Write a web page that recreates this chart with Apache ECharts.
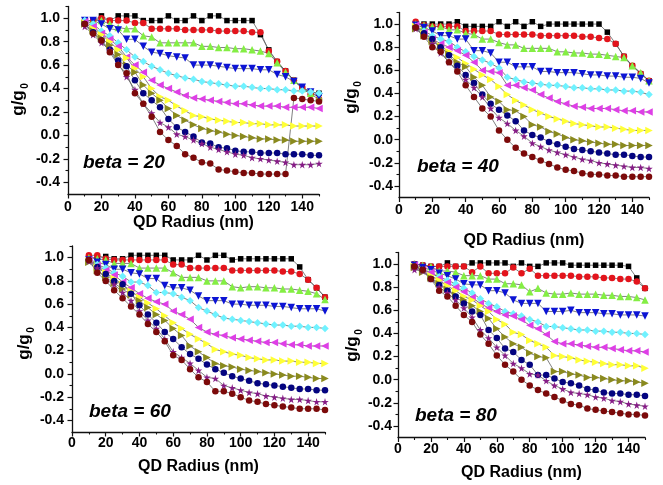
<!DOCTYPE html>
<html>
<head>
<meta charset="utf-8">
<script src="https://cdn.jsdelivr.net/npm/echarts@6/dist/echarts.min.js"></script>
<style>
  html, body { margin: 0; padding: 0; background: #ffffff; }
  #chart { width: 663px; height: 485px; }
</style>
</head>
<body>
<div id="chart"></div>
<script>
// QD radius sample points (nm)
const radius = [10, 15, 20, 25, 30, 35, 40, 45, 50, 55, 60, 65, 70, 75, 80, 85, 90, 95, 100, 105, 110, 115, 120, 125, 130, 135, 140, 145, 150];
const betaValues = [20, 40, 60, 80];

// tick labels
const xLabelTicks = [0, 20, 40, 60, 80, 100, 120, 140];
const xMinorTicks = [10, 30, 50, 70, 90, 110, 130, 150];
const yLabelTicks = [-0.4, -0.2, 0, 0.2, 0.4, 0.6, 0.8, 1.0];
const yMinorTicks = [-0.3, -0.1, 0.1, 0.3, 0.5, 0.7, 0.9, 1.1];

// beta = 20
const b20_k = [0.98, 0.98, 1.02, 0.98, 1.02, 1.02, 1.02, 0.98, 0.98, 0.98, 1.02, 0.98, 0.98, 1.02, 0.98, 1.02, 1.02, 0.98, 0.98, 0.98, 0.98, 0.86, 0.73, 0.63, 0.55, 0.47, 0.41, 0.37, 0.36];
const b20_r = [0.98, 0.98, 1.00, 0.98, 0.98, 0.98, 0.96, 0.96, 0.91, 0.91, 0.91, 0.91, 0.90, 0.90, 0.90, 0.90, 0.89, 0.89, 0.89, 0.89, 0.88, 0.88, 0.72, 0.63, 0.55, 0.47, 0.41, 0.35, 0.31];
const b20_g = [0.98, 0.98, 0.98, 0.95, 0.92, 0.91, 0.91, 0.85, 0.84, 0.79, 0.79, 0.79, 0.79, 0.79, 0.76, 0.76, 0.75, 0.75, 0.74, 0.74, 0.73, 0.72, 0.70, 0.62, 0.54, 0.47, 0.40, 0.36, 0.33];
const b20_b = [0.98, 0.98, 0.95, 0.91, 0.90, 0.82, 0.82, 0.76, 0.71, 0.70, 0.68, 0.67, 0.66, 0.60, 0.60, 0.60, 0.59, 0.58, 0.57, 0.57, 0.57, 0.56, 0.56, 0.52, 0.50, 0.46, 0.41, 0.37, 0.33];
const b20_c = [0.98, 0.95, 0.89, 0.85, 0.79, 0.73, 0.67, 0.63, 0.59, 0.56, 0.53, 0.51, 0.49, 0.48, 0.46, 0.45, 0.44, 0.43, 0.42, 0.42, 0.41, 0.40, 0.40, 0.39, 0.39, 0.38, 0.38, 0.37, 0.36];
const b20_m = [0.97, 0.93, 0.87, 0.82, 0.76, 0.67, 0.60, 0.54, 0.47, 0.43, 0.40, 0.37, 0.34, 0.32, 0.31, 0.30, 0.29, 0.28, 0.27, 0.27, 0.26, 0.25, 0.25, 0.25, 0.24, 0.24, 0.24, 0.24, 0.23];
const b20_y = [0.96, 0.91, 0.86, 0.80, 0.73, 0.66, 0.57, 0.50, 0.40, 0.33, 0.30, 0.25, 0.21, 0.17, 0.16, 0.14, 0.13, 0.12, 0.11, 0.11, 0.10, 0.10, 0.09, 0.09, 0.09, 0.08, 0.08, 0.08, 0.08];
const b20_o = [0.95, 0.89, 0.83, 0.77, 0.69, 0.60, 0.54, 0.43, 0.36, 0.30, 0.23, 0.17, 0.13, 0.09, 0.06, 0.04, 0.03, 0.01, 0.00, -0.01, -0.02, -0.03, -0.03, -0.04, -0.04, -0.05, -0.05, -0.05, -0.05];
const b20_n = [0.95, 0.88, 0.81, 0.73, 0.64, 0.59, 0.47, 0.36, 0.30, 0.24, 0.14, 0.07, 0.03, -0.01, -0.06, -0.07, -0.10, -0.11, -0.13, -0.14, -0.14, -0.15, -0.15, -0.15, -0.16, -0.16, -0.16, -0.17, -0.17];
const b20_p = [0.93, 0.86, 0.79, 0.73, 0.61, 0.50, 0.39, 0.27, 0.19, 0.11, 0.07, 0.01, -0.01, -0.04, -0.07, -0.10, -0.12, -0.14, -0.16, -0.17, -0.19, -0.20, -0.21, -0.22, -0.23, -0.25, -0.25, -0.25, -0.24];
const b20_w = [0.95, 0.87, 0.81, 0.71, 0.60, 0.53, 0.36, 0.27, 0.16, 0.03, -0.04, -0.09, -0.16, -0.19, -0.23, -0.24, -0.29, -0.30, -0.31, -0.32, -0.32, -0.33, -0.33, -0.33, -0.33, 0.32, 0.31, 0.30, 0.29];

// beta = 40
const b40_k = [1.00, 1.00, 1.00, 1.00, 1.00, 1.02, 0.98, 0.98, 0.98, 0.98, 1.02, 0.98, 1.02, 0.98, 1.02, 0.98, 1.00, 1.00, 1.00, 1.00, 1.00, 1.00, 1.00, 0.93, 0.83, 0.72, 0.64, 0.57, 0.51];
const b40_r = [1.02, 0.99, 0.98, 0.98, 0.98, 0.98, 0.94, 0.94, 0.94, 0.94, 0.91, 0.91, 0.91, 0.91, 0.91, 0.90, 0.90, 0.90, 0.90, 0.90, 0.89, 0.89, 0.88, 0.87, 0.83, 0.72, 0.64, 0.57, 0.51];
const b40_g = [1.00, 0.99, 0.98, 0.98, 0.95, 0.95, 0.92, 0.91, 0.87, 0.87, 0.84, 0.82, 0.82, 0.79, 0.79, 0.79, 0.79, 0.76, 0.76, 0.75, 0.75, 0.74, 0.74, 0.73, 0.72, 0.71, 0.64, 0.58, 0.51];
const b40_b = [0.99, 0.97, 0.94, 0.90, 0.90, 0.87, 0.87, 0.77, 0.77, 0.75, 0.67, 0.67, 0.63, 0.63, 0.63, 0.59, 0.59, 0.58, 0.58, 0.58, 0.57, 0.56, 0.56, 0.55, 0.55, 0.54, 0.54, 0.53, 0.49];
const b40_c = [0.98, 0.94, 0.90, 0.87, 0.85, 0.80, 0.76, 0.72, 0.69, 0.66, 0.62, 0.54, 0.52, 0.50, 0.49, 0.48, 0.47, 0.47, 0.46, 0.45, 0.45, 0.44, 0.44, 0.43, 0.43, 0.42, 0.42, 0.41, 0.39];
const b40_m = [0.99, 0.93, 0.87, 0.83, 0.80, 0.77, 0.73, 0.67, 0.60, 0.59, 0.58, 0.47, 0.47, 0.45, 0.43, 0.39, 0.36, 0.33, 0.31, 0.29, 0.28, 0.27, 0.27, 0.27, 0.26, 0.25, 0.25, 0.24, 0.24];
const b40_y = [0.98, 0.92, 0.86, 0.81, 0.76, 0.71, 0.66, 0.61, 0.56, 0.52, 0.46, 0.39, 0.34, 0.30, 0.26, 0.23, 0.20, 0.18, 0.16, 0.14, 0.13, 0.12, 0.11, 0.11, 0.10, 0.09, 0.08, 0.08, 0.08];
const b40_o = [0.96, 0.90, 0.85, 0.80, 0.74, 0.67, 0.63, 0.54, 0.47, 0.37, 0.33, 0.26, 0.25, 0.20, 0.13, 0.11, 0.07, 0.05, 0.02, 0.00, -0.01, -0.02, -0.03, -0.04, -0.04, -0.05, -0.05, -0.05, -0.05];
const b40_n = [0.97, 0.92, 0.87, 0.80, 0.73, 0.64, 0.56, 0.49, 0.39, 0.31, 0.26, 0.21, 0.16, 0.08, 0.04, 0.02, -0.02, -0.04, -0.06, -0.08, -0.09, -0.10, -0.11, -0.12, -0.13, -0.13, -0.14, -0.15, -0.15];
const b40_p = [0.96, 0.90, 0.83, 0.75, 0.67, 0.60, 0.52, 0.45, 0.37, 0.27, 0.19, 0.14, 0.08, 0.03, -0.03, -0.06, -0.09, -0.11, -0.13, -0.15, -0.17, -0.18, -0.20, -0.21, -0.22, -0.23, -0.24, -0.24, -0.25];
const b40_w = [0.97, 0.89, 0.80, 0.76, 0.67, 0.59, 0.47, 0.37, 0.27, 0.20, 0.08, 0.00, -0.07, -0.12, -0.15, -0.18, -0.21, -0.24, -0.26, -0.27, -0.29, -0.30, -0.30, -0.31, -0.31, -0.32, -0.32, -0.32, -0.32];

// beta = 60
const b60_k = [1.00, 1.00, 1.01, 0.99, 0.99, 1.02, 1.02, 1.02, 1.02, 1.02, 0.98, 0.98, 0.98, 1.02, 0.98, 1.02, 1.02, 0.98, 0.99, 0.99, 0.99, 0.99, 0.99, 0.99, 0.99, 0.92, 0.81, 0.74, 0.66];
const b60_r = [1.02, 1.02, 0.99, 0.98, 0.98, 0.98, 0.98, 0.98, 0.98, 0.98, 0.94, 0.94, 0.91, 0.91, 0.91, 0.91, 0.91, 0.89, 0.89, 0.89, 0.89, 0.89, 0.89, 0.88, 0.88, 0.86, 0.81, 0.74, 0.66];
const b60_g = [1.00, 0.99, 0.98, 0.95, 0.95, 0.95, 0.91, 0.91, 0.91, 0.91, 0.87, 0.83, 0.83, 0.83, 0.80, 0.80, 0.80, 0.75, 0.74, 0.75, 0.75, 0.74, 0.74, 0.73, 0.73, 0.72, 0.71, 0.69, 0.64];
const b60_b = [0.98, 0.96, 0.94, 0.90, 0.90, 0.87, 0.86, 0.82, 0.82, 0.76, 0.74, 0.74, 0.72, 0.67, 0.63, 0.63, 0.63, 0.60, 0.60, 0.59, 0.59, 0.59, 0.58, 0.58, 0.57, 0.56, 0.56, 0.56, 0.54];
const b60_c = [0.98, 0.94, 0.91, 0.87, 0.84, 0.79, 0.79, 0.76, 0.70, 0.70, 0.69, 0.66, 0.63, 0.57, 0.54, 0.51, 0.48, 0.47, 0.46, 0.45, 0.44, 0.43, 0.42, 0.42, 0.41, 0.41, 0.40, 0.40, 0.39];
const b60_m = [0.98, 0.93, 0.89, 0.85, 0.79, 0.74, 0.69, 0.65, 0.62, 0.60, 0.54, 0.51, 0.47, 0.40, 0.36, 0.34, 0.33, 0.31, 0.30, 0.29, 0.28, 0.27, 0.27, 0.26, 0.25, 0.25, 0.24, 0.24, 0.24];
const b60_y = [0.97, 0.92, 0.87, 0.82, 0.77, 0.71, 0.66, 0.61, 0.56, 0.50, 0.44, 0.39, 0.34, 0.30, 0.26, 0.21, 0.19, 0.17, 0.16, 0.14, 0.13, 0.12, 0.12, 0.11, 0.11, 0.10, 0.10, 0.09, 0.09];
const b60_o = [0.96, 0.89, 0.83, 0.78, 0.73, 0.68, 0.63, 0.57, 0.51, 0.46, 0.39, 0.33, 0.24, 0.19, 0.14, 0.09, 0.07, 0.06, 0.04, 0.03, 0.02, 0.01, 0.00, -0.01, -0.02, -0.02, -0.03, -0.04, -0.04];
const b60_n = [0.98, 0.92, 0.86, 0.80, 0.77, 0.69, 0.59, 0.51, 0.44, 0.36, 0.30, 0.23, 0.17, 0.13, 0.08, 0.04, 0.01, -0.02, -0.04, -0.06, -0.08, -0.09, -0.10, -0.11, -0.12, -0.13, -0.13, -0.14, -0.14];
const b60_p = [0.97, 0.91, 0.81, 0.77, 0.70, 0.63, 0.54, 0.46, 0.39, 0.30, 0.19, 0.14, 0.09, 0.03, -0.03, -0.04, -0.10, -0.12, -0.14, -0.16, -0.17, -0.19, -0.20, -0.21, -0.22, -0.22, -0.23, -0.24, -0.24];
const b60_w = [0.98, 0.87, 0.80, 0.72, 0.65, 0.58, 0.51, 0.43, 0.36, 0.28, 0.16, 0.12, 0.04, -0.03, -0.07, -0.15, -0.15, -0.17, -0.20, -0.23, -0.24, -0.26, -0.27, -0.28, -0.29, -0.30, -0.30, -0.30, -0.31];

// beta = 80
const b80_k = [1.00, 0.99, 0.98, 0.98, 1.01, 0.98, 0.98, 1.01, 1.01, 1.01, 1.01, 1.01, 0.98, 1.01, 0.98, 0.98, 1.01, 1.01, 1.01, 0.99, 0.99, 0.99, 0.99, 0.99, 0.99, 0.99, 0.98, 0.88, 0.79];
const b80_r = [1.00, 0.99, 0.98, 0.98, 0.98, 0.98, 0.98, 0.93, 0.98, 0.92, 0.92, 0.92, 0.97, 0.92, 0.96, 0.90, 0.90, 0.90, 0.90, 0.90, 0.89, 0.89, 0.89, 0.88, 0.88, 0.87, 0.87, 0.85, 0.79];
const b80_g = [1.00, 0.99, 0.98, 0.94, 0.94, 0.93, 0.90, 0.90, 0.90, 0.87, 0.87, 0.83, 0.83, 0.82, 0.76, 0.79, 0.75, 0.74, 0.74, 0.75, 0.74, 0.74, 0.74, 0.73, 0.73, 0.72, 0.72, 0.71, 0.69];
const b80_b = [0.99, 0.97, 0.95, 0.92, 0.90, 0.87, 0.83, 0.82, 0.82, 0.77, 0.77, 0.75, 0.69, 0.66, 0.66, 0.66, 0.59, 0.59, 0.59, 0.60, 0.58, 0.58, 0.58, 0.57, 0.57, 0.56, 0.56, 0.56, 0.55];
const b80_c = [0.98, 0.95, 0.92, 0.89, 0.86, 0.83, 0.79, 0.75, 0.70, 0.66, 0.63, 0.59, 0.57, 0.55, 0.52, 0.50, 0.46, 0.46, 0.45, 0.44, 0.43, 0.43, 0.42, 0.42, 0.41, 0.41, 0.40, 0.40, 0.39];
const b80_m = [0.99, 0.95, 0.93, 0.88, 0.84, 0.80, 0.76, 0.71, 0.66, 0.62, 0.59, 0.56, 0.55, 0.52, 0.47, 0.44, 0.39, 0.33, 0.31, 0.31, 0.30, 0.29, 0.28, 0.28, 0.27, 0.26, 0.25, 0.25, 0.24];
const b80_y = [0.98, 0.94, 0.90, 0.86, 0.81, 0.77, 0.72, 0.69, 0.64, 0.59, 0.52, 0.48, 0.41, 0.39, 0.34, 0.31, 0.28, 0.21, 0.20, 0.19, 0.17, 0.16, 0.15, 0.14, 0.13, 0.13, 0.12, 0.12, 0.10];
const b80_o = [0.97, 0.93, 0.88, 0.83, 0.78, 0.73, 0.69, 0.64, 0.59, 0.53, 0.44, 0.37, 0.31, 0.28, 0.23, 0.20, 0.19, 0.07, 0.07, 0.05, 0.04, 0.02, 0.02, 0.01, 0.00, -0.01, -0.01, -0.02, -0.03];
const b80_n = [0.98, 0.95, 0.87, 0.82, 0.77, 0.72, 0.66, 0.59, 0.56, 0.43, 0.36, 0.27, 0.24, 0.17, 0.13, 0.04, 0.04, 0.01, -0.02, -0.03, -0.05, -0.08, -0.09, -0.11, -0.12, -0.12, -0.13, -0.13, -0.14];
const b80_p = [0.95, 0.94, 0.87, 0.80, 0.75, 0.69, 0.62, 0.54, 0.43, 0.36, 0.28, 0.21, 0.14, 0.10, 0.05, 0.04, -0.01, -0.05, -0.08, -0.11, -0.12, -0.13, -0.15, -0.16, -0.18, -0.19, -0.21, -0.22, -0.23];
const b80_w = [0.98, 0.95, 0.87, 0.77, 0.72, 0.64, 0.56, 0.50, 0.39, 0.31, 0.21, 0.13, 0.07, 0.00, -0.05, -0.09, -0.12, -0.15, -0.18, -0.21, -0.22, -0.25, -0.26, -0.27, -0.28, -0.29, -0.30, -0.30, -0.31];

const panelSeries = [
  [b20_k, b20_r, b20_g, b20_b, b20_c, b20_m, b20_y, b20_o, b20_n, b20_p, b20_w],
  [b40_k, b40_r, b40_g, b40_b, b40_c, b40_m, b40_y, b40_o, b40_n, b40_p, b40_w],
  [b60_k, b60_r, b60_g, b60_b, b60_c, b60_m, b60_y, b60_o, b60_n, b60_p, b60_w],
  [b80_k, b80_r, b80_g, b80_b, b80_c, b80_m, b80_y, b80_o, b80_n, b80_p, b80_w]
];

// marker styles, one per curve
const STAR = 'path://M50,0 L61,35 L98,35 L68,57 L79,91 L50,70 L21,91 L32,57 L2,35 L39,35 Z';
const markerStyles = [
  { color: '#000000', symbol: 'rect', size: 5.5, rotate: 0 },
  { color: '#e3141c', symbol: 'circle', size: 6.5, rotate: 0 },
  { color: '#84ee44', symbol: 'triangle', size: 7.5, rotate: 0 },
  { color: '#0c14d4', symbol: 'triangle', size: 7.5, rotate: 180 },
  { color: '#70f2ff', symbol: 'diamond', size: 7.5, rotate: 0 },
  { color: '#de3fe6', symbol: 'triangle', size: 7.5, rotate: 90 },
  { color: '#ffff36', symbol: 'triangle', size: 7.5, rotate: -90 },
  { color: '#8a8a1e', symbol: 'triangle', size: 7.5, rotate: -90 },
  { color: '#040480', symbol: 'circle', size: 6.5, rotate: 0 },
  { color: '#861c86', symbol: STAR, size: 7.5, rotate: 0 },
  { color: '#7c0a0a', symbol: 'circle', size: 6.5, rotate: 0 }
];

// panel placement
const panelLayout = [
  { grid: { left: 68, top: 6.5, width: 251, height: 187.5 }, nameGap: 20, xMargin: 6, yMargin: 8, yName: [18, 103], beta: [83, 163] },
  { grid: { left: 399, top: 12.5, width: 250, height: 185 }, nameGap: 35, xMargin: 6, yMargin: 6, yName: [351, 101], beta: [417, 167] },
  { grid: { left: 72, top: 246, width: 253, height: 186 }, nameGap: 27, xMargin: 4, yMargin: 8, yName: [24, 347], beta: [89, 412] },
  { grid: { left: 398, top: 252.5, width: 247, height: 185 }, nameGap: 27, xMargin: 5, yMargin: 6, yName: [352, 349], beta: [415, 416] }
];

const FONT = '"Liberation Sans", Arial, sans-serif';
const axisColor = '#111111';

const grids = [], xAxes = [], yAxes = [], series = [], graphics = [];

panelLayout.forEach((p, k) => {
  grids.push(Object.assign({ containLabel: false, outerBoundsMode: 'none' }, p.grid));

  // main x axis (labels + major ticks)
  xAxes.push({
    type: 'value', gridIndex: k, min: 0, max: 150, interval: 10,
    name: 'QD Radius (nm)', nameLocation: 'middle', nameGap: p.nameGap,
    nameTextStyle: { fontFamily: FONT, fontWeight: 'bold', fontSize: 16, color: '#000' },
    axisLine: { show: true, onZero: false, lineStyle: { color: axisColor, width: 1.3 } },
    axisTick: { show: true, length: 4.5, customValues: xLabelTicks, lineStyle: { color: axisColor, width: 1.2 } },
    axisLabel: { customValues: xLabelTicks, margin: p.xMargin, fontFamily: FONT, fontWeight: 'bold', fontSize: 14, color: '#000' },
    splitLine: { show: false }
  });
  // minor x ticks
  xAxes.push({
    type: 'value', gridIndex: k, min: 0, max: 150, interval: 10, position: 'bottom',
    axisLine: { show: false, onZero: false },
    axisTick: { show: true, length: 2.5, customValues: xMinorTicks, lineStyle: { color: axisColor, width: 1.1 } },
    axisLabel: { show: false }, splitLine: { show: false }
  });

  // main y axis
  yAxes.push({
    type: 'value', gridIndex: k, min: -0.5, max: 1.1, interval: 0.1,
    axisLine: { show: true, onZero: false, lineStyle: { color: axisColor, width: 1.3 } },
    axisTick: { show: true, length: 4.5, customValues: yLabelTicks, lineStyle: { color: axisColor, width: 1.2 } },
    axisLabel: { customValues: yLabelTicks, margin: p.yMargin, fontFamily: FONT, fontWeight: 'bold', fontSize: 14, color: '#000',
      formatter: v => v.toFixed(1) },
    splitLine: { show: false }
  });
  // minor y ticks
  yAxes.push({
    type: 'value', gridIndex: k, min: -0.5, max: 1.1, interval: 0.1, position: 'left',
    axisLine: { show: false, onZero: false },
    axisTick: { show: true, length: 2.5, customValues: yMinorTicks, lineStyle: { color: axisColor, width: 1.1 } },
    axisLabel: { show: false }, splitLine: { show: false }
  });

  panelSeries[k].forEach((vals, i) => {
    const st = markerStyles[i];
    series.push({
      type: 'line',
      xAxisIndex: 2 * k, yAxisIndex: 2 * k,
      data: radius.map((r, j) => [r, vals[j]]),
      symbol: st.symbol, symbolSize: st.size, symbolRotate: st.rotate,
      showAllSymbol: true,
      clip: false,
      lineStyle: { color: '#606060', width: 0.8 },
      itemStyle: { color: st.color, borderWidth: 0 },
      emphasis: { disabled: true },
      animation: false
    });
  });

  // y-axis title g/g0
  graphics.push({
    type: 'text', x: p.yName[0], y: p.yName[1], rotation: Math.PI / 2,
    style: { text: 'g/g', fontFamily: FONT, fontWeight: 'bold', fontSize: 17, fill: '#000', align: 'center', verticalAlign: 'middle' }
  });
  graphics.push({
    type: 'text', x: p.yName[0] + 7, y: p.yName[1] - 17, rotation: Math.PI / 2,
    style: { text: '0', fontFamily: FONT, fontWeight: 'bold', fontSize: 10, fill: '#000', align: 'center', verticalAlign: 'middle' }
  });
  // beta annotation
  graphics.push({
    type: 'text', x: p.beta[0], y: p.beta[1],
    style: { text: 'beta = ' + betaValues[k], fontFamily: FONT, fontWeight: 'bold', fontStyle: 'italic', fontSize: 19, fill: '#000', align: 'left', verticalAlign: 'middle' }
  });
});

const chart = echarts.init(document.getElementById('chart'), null, { renderer: 'canvas' });
chart.setOption({
  backgroundColor: '#ffffff',
  animation: false,
  grid: grids,
  xAxis: xAxes,
  yAxis: yAxes,
  series: series,
  graphic: graphics
});
</script>
</body>
</html>
